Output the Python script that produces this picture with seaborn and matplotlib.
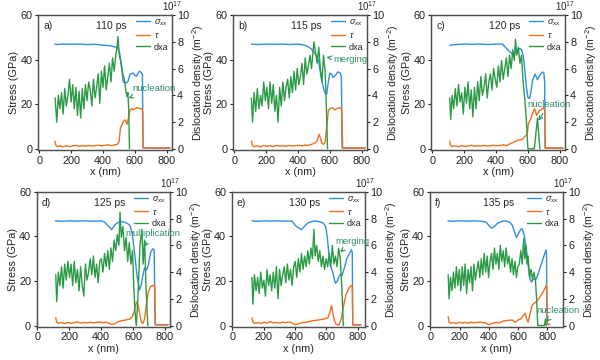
import matplotlib
matplotlib.use('Agg')
import matplotlib.pyplot as plt
import seaborn as sns
import pandas as pd

# ---------------- data ----------------
times = ["110 ps", "115 ps", "120 ps", "125 ps", "130 ps", "135 ps"]
letters = ["a)", "b)", "c)", "d)", "e)", "f)"]
notes = ["nucleation", "merging", "nucleation", "multiplication", "merging", "nucleation"]

# panel a
sxx_x_a = [98,110,150,200,250,300,350,400,440,470,490,505,515,527,540,555,570,587,600,610,620,629,640,647,651,700,760,820]
sxx_a = [47,46.8,47,46.9,47,46.8,46.9,46.5,46.3,45.8,45.6,43,37,30,29.5,30,33.5,34,33,32.6,34,34.8,34.2,33.5,0.4,0.4,0.3,0.4]
tau_x_a = [98,105,115,130,150,170,190,210,230,250,270,290,310,330,350,370,390,410,430,450,470,490,500,510,520,530,540,550,560,570,580,590,600,615,630,645,648,652,700,760,820]
tau_a = [3.5,1.5,1.0,1.3,0.9,1.4,1.0,1.3,1.6,1.1,1.4,1.2,1.5,1.2,1.4,1.6,1.3,1.5,1.8,1.4,1.7,2.0,3.0,9.5,11,12.5,13,11,14,17.5,18,17.5,18,18.5,18,18,17,0.4,0.4,0.3,0.4]
dxa_x_a = [100,110,120,130,140,150,160,170,180,190,200,210,220,230,240,250,260,270,280,290,300,310,320,330,340,350,360,370,380,390,400,410,420,430,440,450,460,470,480,488,494,502,514,524,534,542,550,556,561,566]
dxa_a = [3.8,2.0,4.0,3.0,4.2,2.6,4.5,3.2,4.0,5.2,3.5,4.8,3.0,4.6,2.5,4.3,2.3,4.5,3.0,4.8,3.6,5.0,4.4,3.2,5.2,3.8,4.6,5.6,3.4,5.8,4.6,6.2,4.4,5.4,6.4,5.0,6.8,5.8,7.0,7.6,8.4,7.0,6.4,5.6,5.2,4.4,3.9,4.2,3.0,0.0]

# panel b
sxx_x_b = [108,150,200,250,300,350,400,440,460,480,500,515,530,545,560,570,580,590,600,610,620,635,650,665,672,676,720,820]
sxx_b = [47,46.8,47,46.9,47,46.8,47,46.5,46,45,43.5,42,39,32,27,25,24.5,30,34,33.5,32,33,34.5,34,32,0.4,0.4,0.3]
tau_x_b = [108,114,125,145,165,185,205,225,245,265,285,305,325,345,365,385,405,425,445,465,485,505,520,532,540,550,560,570,580,590,600,615,630,645,660,670,675,680,720,820]
tau_b = [3.5,1.5,1.0,1.3,0.9,1.5,1.1,1.4,1.0,1.5,1.2,1.4,1.1,1.5,1.3,1.4,1.6,1.3,1.7,1.5,2.0,2.5,3.5,6.5,5,2.5,2.0,3,10,17,18,18.5,17.5,18,18.5,18,17,0.3,0.3,0.3]
dxa_x_b = [108,115,125,135,145,155,165,175,185,195,205,215,225,235,245,255,265,275,285,295,305,315,325,335,345,355,365,375,385,395,405,415,425,435,445,455,465,475,485,495,500,510,520,530,540,550,560,570,578,585]
dxa_b = [3.8,2.0,4.2,2.8,4.5,3.0,4.0,3.2,5.0,3.6,4.6,3.0,5.0,3.4,4.8,2.8,4.0,2.0,4.6,3.2,5.0,3.6,4.6,5.2,3.8,5.4,4.2,5.8,4.4,6.0,4.8,5.4,6.4,4.8,6.8,5.6,6.2,7.0,6.0,7.4,8.0,7.2,6.4,7.6,6.0,5.0,7.0,5.8,3.0,0.0]

# panel c
sxx_x_c = [110,150,200,250,300,350,400,440,460,480,495,510,525,540,550,560,570,580,590,600,610,620,630,645,660,675,690,700,705,708,760,820]
sxx_c = [46.5,46.8,47,46.9,47,46.8,47,47,45.5,44,43,42,43.5,44.5,45,44.5,42,36,28,23,22.5,26,31,33.5,31,33,34.5,34,30,0.4,0.4,0.3]
tau_x_c = [110,116,126,146,166,186,206,226,246,266,286,306,326,346,366,386,406,426,446,466,486,506,526,546,566,580,590,598,602,615,630,642,655,670,690,700,705,708,760,820]
tau_c = [3.5,1.5,1.0,1.3,0.9,1.4,1.0,1.3,1.6,1.1,1.4,1.2,1.5,1.2,1.4,1.6,1.3,1.5,1.8,1.4,2.2,2.8,3.5,4.0,4.2,5.5,6,8,11,13,16,18,15,17,18,18.5,17,0.3,0.3,0.3]
dxa_x_c = [110,116,125,135,145,155,165,175,185,195,205,215,225,235,245,255,265,275,285,295,305,315,325,335,345,355,365,375,385,395,405,415,425,435,445,455,465,475,485,495,505,515,522,530,540,550,560,570,580,590,600,640,660,675]
dxa_c = [3.8,2.2,4.0,3.0,4.5,3.2,4.8,3.5,4.2,2.6,4.6,3.4,5.0,3.0,4.4,2.4,4.6,3.0,5.0,3.6,5.4,4.0,4.6,5.6,3.8,5.0,5.6,4.4,6.0,5.2,4.6,6.2,5.0,6.6,5.2,6.0,6.8,5.4,7.0,6.0,7.4,6.6,8.2,7.0,7.6,6.4,7.0,5.0,3.8,2.2,0.0,0.0,2.3,0.0]

# panel d
sxx_x_d = [112,150,200,250,300,350,400,420,440,455,465,475,490,505,520,540,560,580,595,610,625,640,650,660,672,685,695,710,725,732,738,780,820]
sxx_d = [47,46.8,47,46.9,47,46.8,47,46.5,45,44,43,44,45.5,46.2,46.6,46.5,46,45,41,32,22,16,18,22,26,25,27,33,34.5,34,0.4,0.4,0.3]
tau_x_d = [115,121,131,151,171,191,211,231,251,271,291,311,331,351,371,391,411,431,451,465,480,500,520,540,560,580,595,605,615,622,632,642,652,662,672,682,695,710,725,735,740,780,820]
tau_d = [3.5,1.5,1.0,1.3,0.9,1.4,1.0,1.3,1.6,1.1,1.4,1.2,1.5,1.2,1.4,1.6,1.3,1.5,1.0,0.5,0.6,1.5,2.0,2.3,2.6,3.0,4,6,9,10.5,9,5,1.5,1.0,3,9,15,17.5,18,18,0.3,0.3,0.3]
dxa_x_d = [115,121,131,141,151,161,171,181,191,201,211,221,231,241,251,261,271,281,291,301,311,321,331,341,351,361,371,381,391,401,411,421,431,441,451,461,471,481,491,501,511,518,526,536,546,556,566,576,586,596,604,612,620,630,643,655,663,672,682,692]
dxa_d = [3.8,1.8,4.0,3.0,4.4,2.8,4.6,3.4,4.8,3.6,4.6,3.0,4.8,3.2,4.2,2.6,4.4,3.0,2.2,4.6,3.4,4.0,5.0,3.8,5.2,3.6,4.6,3.2,4.8,5.0,4.0,5.4,4.4,5.6,4.2,5.8,4.8,6.4,5.6,6.8,6.0,8.5,6.6,7.4,5.6,6.6,4.8,6.2,4.6,5.6,3.0,1.0,0.0,2.0,6.0,7.2,4.6,6.4,2.5,0.0]

# panel e
sxx_x_e = [125,150,200,250,300,350,380,400,420,440,460,480,500,520,540,560,580,595,605,615,625,640,657,670,680,690,700,715,730,745,760,765,768,800,820]
sxx_e = [47,46.8,47,46.9,47,46.8,47,45,44,43,44.5,46,46.5,47,46.8,46.5,46,44.5,40,33,27,24,19,20,22,23,22.5,26,30,32,34,33,0.4,0.4,0.3]
tau_x_e = [125,131,141,161,181,201,221,241,261,281,301,321,341,361,381,400,415,430,450,470,500,530,560,590,610,622,632,640,650,662,680,695,710,725,745,760,765,768,800,820]
tau_e = [3.5,1.5,1.0,1.3,0.9,1.5,1.1,1.8,1.2,1.4,1.1,1.5,1.3,1.6,1.2,0.4,0.6,1.0,1.3,1.5,2.0,2.3,2.6,3.0,3.5,6,9,6,2.5,0.5,0.3,3,9,14,17,18,17.5,0.3,0.3,0.3]
dxa_x_e = [125,131,141,151,161,171,181,191,201,211,221,231,241,251,261,271,281,291,301,311,321,331,341,351,361,371,381,391,401,411,421,431,441,451,461,471,481,491,501,511,520,528,538,548,558,568,578,588,598,608,618,628,638,648,658,668,678,688,698,708]
dxa_e = [3.6,1.6,3.8,2.6,3.6,2.4,4.0,2.8,3.4,2.2,4.2,3.0,3.8,2.6,4.0,2.8,4.4,2.0,4.2,3.0,3.8,4.4,3.2,4.6,3.4,4.2,3.0,4.4,4.8,3.6,5.0,4.0,5.4,4.2,5.2,4.4,5.6,4.6,5.8,5.0,7.2,5.2,6.0,4.8,5.6,4.4,5.2,4.2,5.0,4.4,5.4,4.4,6.0,4.6,5.2,4.4,5.8,5.0,3.0,0.0]

# panel f
sxx_x_f = [120,150,200,250,300,350,380,400,410,420,440,460,480,500,520,540,560,575,588,600,615,626,640,650,660,670,680,690,700,715,725,740,760,775,790,794,797,815]
sxx_f = [47,46.8,47,46.9,47,46.8,46.5,45,44,43.8,44.5,46,46.5,47,46.8,46.5,45,42,39.5,41,43,43.5,41,37,32,26,21,19.5,20.5,21,21,24,28,31,34,32,0.5,0.5]
tau_x_f = [122,128,138,158,178,198,218,238,258,278,298,318,338,358,378,400,415,430,450,470,500,530,560,580,600,620,635,648,658,668,680,695,710,730,750,770,785,792,796,800,815]
tau_f = [4.0,1.5,1.0,1.3,0.9,1.5,1.1,1.4,1.0,1.5,1.2,1.4,1.6,1.3,1.2,0.3,0.8,1.0,1.4,1.2,2.0,2.3,2.5,1.5,2.5,3,4.5,5.5,3,1.5,5,9,10,11,13,15,17,18,15,0.5,0.5]
dxa_x_f = [122,128,138,148,158,168,178,188,198,208,218,228,238,248,258,268,278,288,298,308,318,328,338,348,358,368,378,388,398,408,418,428,438,448,458,468,478,488,498,508,518,528,538,548,558,568,578,588,598,608,618,628,638,645,652,660,668,678,688,698,708,718,726,734,780,786,792]
dxa_f = [3.8,2.0,3.6,2.6,4.0,2.8,4.4,3.0,4.2,2.6,4.4,3.0,4.6,2.4,4.2,3.2,4.4,2.6,4.6,3.4,4.2,4.8,3.6,5.0,3.8,5.4,4.0,5.2,3.6,4.8,5.4,4.2,5.8,4.6,5.4,4.2,6.0,4.8,5.6,4.4,5.8,4.6,5.2,4.0,5.0,3.8,4.8,3.6,4.4,4.6,5.6,4.6,6.5,5.0,6.0,4.6,5.2,3.6,4.2,3.4,4.0,3.4,2.0,0.0,0.0,0.5,0.0]

panels = [
    (sxx_x_a, sxx_a, tau_x_a, tau_a, dxa_x_a, dxa_a),
    (sxx_x_b, sxx_b, tau_x_b, tau_b, dxa_x_b, dxa_b),
    (sxx_x_c, sxx_c, tau_x_c, tau_c, dxa_x_c, dxa_c),
    (sxx_x_d, sxx_d, tau_x_d, tau_d, dxa_x_d, dxa_d),
    (sxx_x_e, sxx_e, tau_x_e, tau_e, dxa_x_e, dxa_e),
    (sxx_x_f, sxx_f, tau_x_f, tau_f, dxa_x_f, dxa_f),
]
# annotation text position and arrow target (x nm, density 1e17 m^-2)
note_text_xy = [(585, 4.5), (620, 6.65), (596, 3.3), (552, 6.85), (660, 6.3), (722, 1.1)]
note_arrow_xy = [(560, 3.8), (580, 6.85), (665, 2.1), (668, 5.9), (688, 5.5), (790, 0.3)]
xmax = [830, 830, 830, 830, 845, 905]

# ---------------- style ----------------
sns.set_theme(style='ticks')
plt.rcParams['font.family'] = ['Liberation Sans', 'DejaVu Sans']
plt.rcParams['mathtext.fontset'] = 'custom'
plt.rcParams['mathtext.rm'] = 'Liberation Sans'
plt.rcParams['mathtext.it'] = 'Liberation Sans:italic'

C_S = '#2e8fe3'
C_T = '#f0701e'
C_D = '#2a9a45'
C_N = '#2f8f66'
SP = '#505050'

fig = plt.figure(figsize=(6, 3.6), dpi=100)
lefts = [[0.064, 0.389, 0.719], [0.061, 0.386, 0.716]]
bottoms = [0.583, 0.092]
W, H = 0.222, 0.375

for i, (sx, sy, tx, ty, dx, dy) in enumerate(panels):
    r, c = divmod(i, 3)
    ax = fig.add_axes([lefts[r][c], bottoms[r], W, H])
    ax2 = ax.twinx()
    sns.lineplot(x=sx, y=sy, ax=ax, color=C_S, lw=1.0, estimator=None, sort=False, label=r'$\sigma_{xx}$')
    sns.lineplot(x=tx, y=ty, ax=ax, color=C_T, lw=1.0, estimator=None, sort=False, label=r'$\tau$')
    sns.lineplot(x=dx, y=dy, ax=ax2, color=C_D, lw=1.0, estimator=None, sort=False, label='dxa')
    h1, l1 = ax.get_legend_handles_labels()
    h2, l2 = ax2.get_legend_handles_labels()
    if ax.get_legend():
        ax.get_legend().remove()
    ax2.legend(h1 + h2, l1 + l2, loc='upper right', bbox_to_anchor=(1.03, 1.035),
               frameon=False, fontsize=6.5, handlelength=1.6, handletextpad=0.4,
               labelspacing=0.3, borderpad=0.3)
    ax.set_xlim(-5, xmax[i])
    ax.set_ylim(-0.6, 60)
    ax2.set_ylim(-0.1, 10)
    ax.set_xticks([0, 200, 400, 600, 800])
    ax.set_yticks([0, 20, 40, 60])
    ax2.set_yticks([0, 2, 4, 6, 8, 10])
    ax.set_xlabel('x (nm)', fontsize=7.8, labelpad=1)
    ax.set_ylabel('Stress (GPa)', fontsize=7.8, labelpad=1)
    ax2.set_ylabel(r'Dislocation density (m$^{-2}$)', fontsize=7.6, labelpad=0.5)
    for a in (ax, ax2):
        a.tick_params(labelsize=7.8, length=2.5, width=0.8, pad=1.5, colors='#222222')
        for s in a.spines.values():
            s.set_color(SP)
            s.set_linewidth(0.9)
    ax.text(0.04, 0.92, letters[i], transform=ax.transAxes, fontsize=7.5, va='center', ha='left')
    ax.text(0.52 if i == 5 else 0.55, 0.92, times[i], transform=ax.transAxes,
            fontsize=7.5, va='center', ha='center')
    ax2.text(1.0, 1.015, r'$10^{17}$', transform=ax2.transAxes, fontsize=7,
             va='bottom', ha='center')
    ax2.annotate(notes[i], xy=note_arrow_xy[i], xytext=note_text_xy[i],
                 fontsize=6.8, color=C_N, va='center', ha='left', annotation_clip=False,
                 arrowprops=dict(arrowstyle='->', color=C_N, lw=0.8, shrinkA=1, shrinkB=0))

fig.savefig('out.png', dpi=100)
